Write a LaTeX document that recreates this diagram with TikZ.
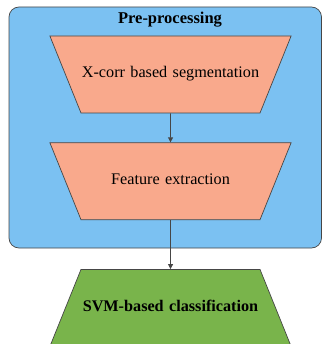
\documentclass[tikz,border=0pt]{standalone}
\usepackage{fontspec}
\setmainfont{Liberation Serif}
\usepackage{tikz}
\usetikzlibrary{shapes.geometric, arrows.meta, positioning}
\definecolor{myblue}{RGB}{123,193,242}
\definecolor{mysalmon}{RGB}{249,169,140}
\definecolor{mygreen}{RGB}{121,180,75}
\definecolor{mydark}{RGB}{70,70,70}
\tikzset{
  stage/.style={trapezium, trapezium left angle=68, trapezium right angle=68,
    shape border rotate=180, text width=179pt, align=center,
    text height=11pt, text depth=4pt, inner xsep=0pt, inner ysep=31pt,
    draw=mydark, fill=mysalmon, line width=0.7pt, font=\fontsize{16.2}{19}\selectfont},
  greenstage/.style={trapezium, trapezium left angle=68, trapezium right angle=68,
    text width=179pt, align=center,
    text height=11pt, text depth=4pt, inner xsep=0pt, inner ysep=31pt,
    draw=mydark, fill=mygreen, line width=0.7pt, font=\fontsize{16.2}{19}\selectfont\bfseries},
  group/.style={rectangle, draw=mydark, fill=myblue, rounded corners=10pt,
    line width=0.7pt},
  arrow/.style={-{Triangle[length=5pt, width=5pt]}, line width=0.8pt, color=mydark}
}
\begin{document}
\begin{tikzpicture}[x=1pt, y=1pt]
  \useasboundingbox (0,0) rectangle (321,-344);
  \draw[group] (9,-7) rectangle (321.5,-248);
  \node[font=\fontsize{16.5}{19}\selectfont\bfseries] (title) at (170,-20) {Pre-processing};
  \node[stage] (seg) at (170.5,-74.5) {X-corr based segmentation};
  \node[stage, below=29pt of seg] (feat) {Feature extraction};
  \node[greenstage, below=49pt of feat] (svm) {SVM-based classification};
  \draw[arrow] (seg) -- (feat);
  \draw[arrow] (feat) -- (svm);
\end{tikzpicture}
\end{document}
